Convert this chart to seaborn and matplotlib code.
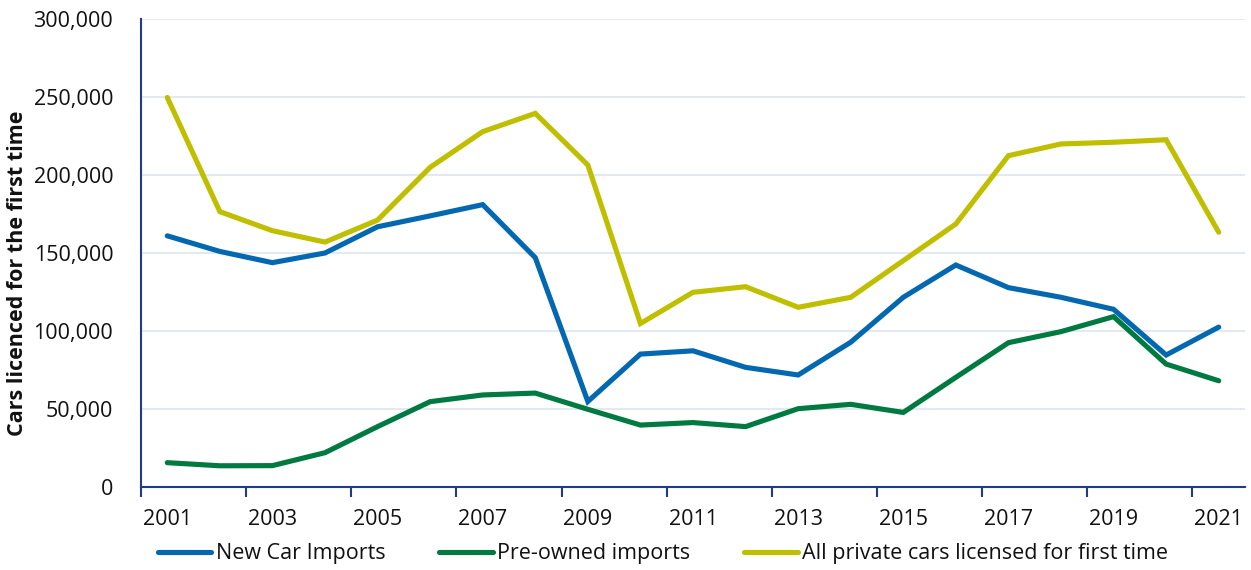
import matplotlib
matplotlib.use("Agg")
import matplotlib.pyplot as plt
from matplotlib.ticker import FuncFormatter, FixedLocator
import seaborn as sns
import pandas as pd

years = list(range(2001, 2022))

new_car_imports = [161000, 151000, 143800, 150000, 166800, 173800, 181000, 147000, 54800, 85200,
                   87300, 76700, 71800, 92800, 121600, 142300, 127800, 121600, 113900, 84600, 102500]
pre_owned_imports = [15600, 13600, 13700, 22000, 38700, 54700, 59000, 60200, 49800, 39700,
                     41300, 38700, 50200, 53000, 47800, 70300, 92500, 99600, 109200, 78800, 68100]
all_private_cars = [249700, 176500, 164300, 157000, 171100, 204900, 227800, 239500, 206400, 104800,
                    124800, 128400, 115200, 121600, 145100, 168600, 212400, 219900, 221000, 222600, 163300]

series_names = ["New Car Imports", "Pre-owned imports", "All private cars licensed for first time"]
series_colors = ["#0468B1", "#007A41", "#BFBF00"]

frames = []
for name, vals in zip(series_names, [new_car_imports, pre_owned_imports, all_private_cars]):
    frames.append(pd.DataFrame({"pos": range(len(years)), "value": vals, "series": name}))
df = pd.concat(frames, ignore_index=True)

sns.set_theme(style="white")
plt.rcParams["font.family"] = ["Open Sans", "DejaVu Sans"]

FS = 15.5

fig = plt.figure(figsize=(12.51, 5.70), dpi=100)
ax = fig.add_axes([141 / 1251, 83 / 570, (1245 - 141) / 1251, (487 - 19) / 570])

sns.lineplot(data=df, x="pos", y="value", hue="series", hue_order=series_names,
             palette=series_colors, linewidth=3.7, ax=ax, legend=False,
             solid_capstyle="round", solid_joinstyle="miter")

ax.set_xlim(-0.5, len(years) - 0.5)
ax.set_ylim(0, 300000)
ax.set_yticks(range(0, 300001, 50000))
ax.yaxis.set_major_formatter(FuncFormatter(lambda v, p: f"{int(v):,}"))
ax.grid(axis="y", color="#E4E9F1", linewidth=1.5)
ax.set_axisbelow(True)

# tick marks at category boundaries, labels on every other year
ax.xaxis.set_major_locator(FixedLocator([i - 0.5 for i in range(0, len(years), 2)]))
ax.xaxis.set_minor_locator(FixedLocator(list(range(0, len(years), 2))))
ax.xaxis.set_major_formatter(FuncFormatter(lambda v, p: ""))
ax.xaxis.set_minor_formatter(FuncFormatter(lambda v, p: str(years[int(round(v))])))
ax.tick_params(axis="x", which="major", length=7, width=1.5, color="#1F3C88", direction="out", bottom=True)
ax.tick_params(axis="x", which="minor", length=0, pad=16, labelsize=FS, labelcolor="#111111")
ax.tick_params(axis="y", length=0, pad=20, labelsize=FS, labelcolor="#111111")

for side in ["top", "right"]:
    ax.spines[side].set_visible(False)
for side in ["left", "bottom"]:
    ax.spines[side].set_color("#1F3C88")
    ax.spines[side].set_linewidth(1.5)

ax.set_xlabel("")
ax.set_ylabel("Cars licenced for the first time", fontsize=15.5, fontweight="bold",
              color="#111111")
ax.yaxis.set_label_coords((28 - 141) / 1104, (487 - 273) / 468)

handles = [plt.Line2D([0], [0], color=c, linewidth=3.7, solid_capstyle="round") for c in series_colors]
fig.legend(handles, series_names, loc="center", bbox_to_anchor=(663 / 1251, 1 - 554 / 570),
           ncol=3, frameon=False, fontsize=FS, handlelength=2.5, handletextpad=0.2,
           columnspacing=2.5, labelcolor="#111111", borderaxespad=0, borderpad=0)

fig.savefig("out.png", dpi=100)
